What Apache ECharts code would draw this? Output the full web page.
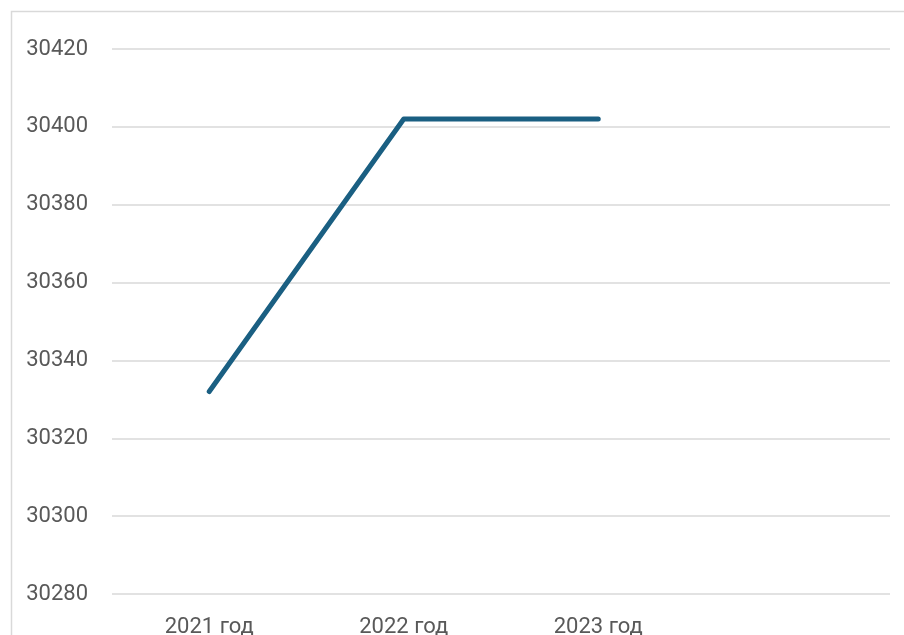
<!DOCTYPE html>
<html>
<head>
<meta charset="utf-8">
<script src="https://cdn.jsdelivr.net/npm/echarts@6/dist/echarts.min.js"></script>
<style>
    html, body { margin: 0; padding: 0; background: #fff; }
    #main { width: 904px; height: 635px; }
</style>
</head>
<body>
<div id="main"></div>
<script>
// данные графика
var years = ['2021 год', '2022 год', '2023 год', '']
var values = [30332, 30402, 30402, null]
var yMin = 30280
var yMax = 30420
var yStep = 20

var myChart = echarts.init(document.getElementById('main'))
var option = {
    animation: false,
    graphic: [
        {
            type: 'rect',
            shape: { x: 11.5, y: 11.5, width: 1000, height: 700 },
            style: { fill: 'none', stroke: '#d9d9d9', lineWidth: 1.5 },
            silent: true
        }
    ],
    grid: { left: 112, right: 14, top: 49, bottom: 41, outerBoundsMode: 'none' },
    xAxis: {
        type: 'category',
        data: years,
        boundaryGap: true,
        axisLine: { show: false },
        axisTick: { show: false },
        axisLabel: {
            color: '#595959',
            fontSize: 22,
            fontFamily: 'Roboto',
            margin: 22
        }
    },
    yAxis: {
        type: 'value',
        min: yMin,
        max: yMax,
        interval: yStep,
        axisLine: { show: false },
        axisTick: { show: false },
        axisLabel: {
            color: '#595959',
            fontSize: 22,
            fontFamily: 'Roboto',
            margin: 24,
            formatter: function(v) { return String(v) }
        },
        splitLine: { lineStyle: { color: '#d9d9d9', width: 1.5 } }
    },
    series: [
        {
            type: 'line',
            data: values,
            symbol: 'none',
            lineStyle: { color: '#1a5f82', width: 5, cap: 'round', join: 'round' }
        }
    ]
}
myChart.setOption(option)
</script>
</body>
</html>
